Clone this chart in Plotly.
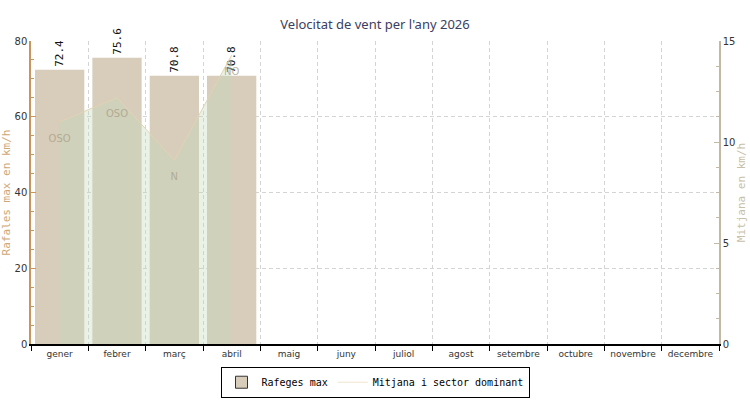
import plotly.graph_objects as go

months = ["gener", "febrer", "març", "abril", "maig", "juny", "juliol",
          "agost", "setembre", "octubre", "novembre", "decembre"]
gust_max = [72.4, 75.6, 70.8, 70.8, None, None, None, None, None, None, None, None]
mean_speed = [11.0, 12.2, 9.1, 14.3]
sectors = ["OSO", "OSO", "N", "NO"]

bar_text = [f"{v:.1f}" if v is not None else "" for v in gust_max]

fig = go.Figure()

fig.add_trace(go.Bar(
    x=months, y=gust_max, name="Rafeges max",
    marker=dict(color="#d8ccba", line=dict(width=0)),
    text=bar_text, textposition="outside", textangle=-90,
    textfont=dict(family="DejaVu Sans Mono", size=11, color="#111"),
    cliponaxis=False, showlegend=False, yaxis="y",
))

fig.add_trace(go.Scatter(
    x=months[:len(mean_speed)], y=mean_speed, name="Mitjana i sector dominant",
    mode="lines+markers+text", yaxis="y2",
    line=dict(color="#e2d3b4", width=1),
    marker=dict(size=18, opacity=0, color="#e2d3b4"),
    fill="tozeroy", fillcolor="rgba(196,218,190,0.35)",
    text=sectors, textposition="bottom center",
    textfont=dict(family="DejaVu Sans", size=10, color="rgba(170,160,135,0.8)"),
    showlegend=False,
))

# legend entries
fig.add_trace(go.Bar(
    x=[None], y=[None], name="Rafeges max",
    marker=dict(color="#d8ccba", line=dict(color="#333", width=1)),
    showlegend=True,
))
fig.add_trace(go.Scatter(
    x=[None], y=[None], name="Mitjana i sector dominant", mode="lines",
    line=dict(color="#efe4cf", width=1), showlegend=True, yaxis="y2",
))

grid = dict(showgrid=True, gridcolor="#d4d4d4", griddash="4px,3px", gridwidth=1)

fig.update_layout(
    width=750, height=400,
    margin=dict(l=31, r=31, t=41, b=56, autoexpand=False),
    paper_bgcolor="white", plot_bgcolor="white",
    bargap=0.14,
    title=dict(text="Velocitat de vent per l'any 2026", x=0.5, xanchor="center",
               y=0.94, yanchor="middle", automargin=False,
               font=dict(family="Noto Sans", size=13, color="#3a4062")),
    xaxis=dict(
        type="category", categoryorder="array", categoryarray=months,
        tickson="boundaries", ticks="outside", ticklen=5, tickcolor="#000",
        showline=True, linecolor="#000", linewidth=1.5,
        tickfont=dict(family="DejaVu Sans", size=9, color="#333"),
        range=[-0.5, 11.5], automargin=False, **grid,
    ),
    yaxis=dict(
        range=[0, 80], dtick=20, ticks="inside", ticklen=5, tickcolor="#c8955a",
        minor=dict(dtick=5, ticks="inside", ticklen=3, tickcolor="#c8955a", showgrid=False),
        showline=True, linecolor="#c8955a", linewidth=1.5,
        zeroline=False, automargin=False,
        tickfont=dict(family="DejaVu Sans", size=10, color="#333"),
        title=dict(text="Rafales max en km/h", standoff=2,
                   font=dict(family="DejaVu Sans Mono", size=11, color="#cfa774")),
        **grid,
    ),
    yaxis2=dict(
        overlaying="y", side="right", range=[0, 15], dtick=5,
        ticks="inside", ticklen=5, tickcolor="#c3b9a3",
        minor=dict(dtick=1.25, ticks="inside", ticklen=3, tickcolor="#c3b9a3", showgrid=False),
        showline=True, linecolor="#c3b9a3", linewidth=1.5,
        showgrid=False, zeroline=False, automargin=False,
        tickfont=dict(family="DejaVu Sans", size=10, color="#333"),
        title=dict(text="Mitjana en km/h", standoff=2,
                   font=dict(family="DejaVu Sans Mono", size=11, color="#c8bfa8")),
    ),
    legend=dict(
        orientation="h", x=0.5, xanchor="center", y=-0.075, yanchor="top",
        bordercolor="#000", borderwidth=1, bgcolor="white",
        font=dict(family="DejaVu Sans Mono", size=10, color="#000"),
        itemwidth=30,
    ),
)

fig.write_html("out.html", config={"displayModeBar": False},
               post_script="document.body.style.margin='0';document.body.style.overflow='hidden';")
